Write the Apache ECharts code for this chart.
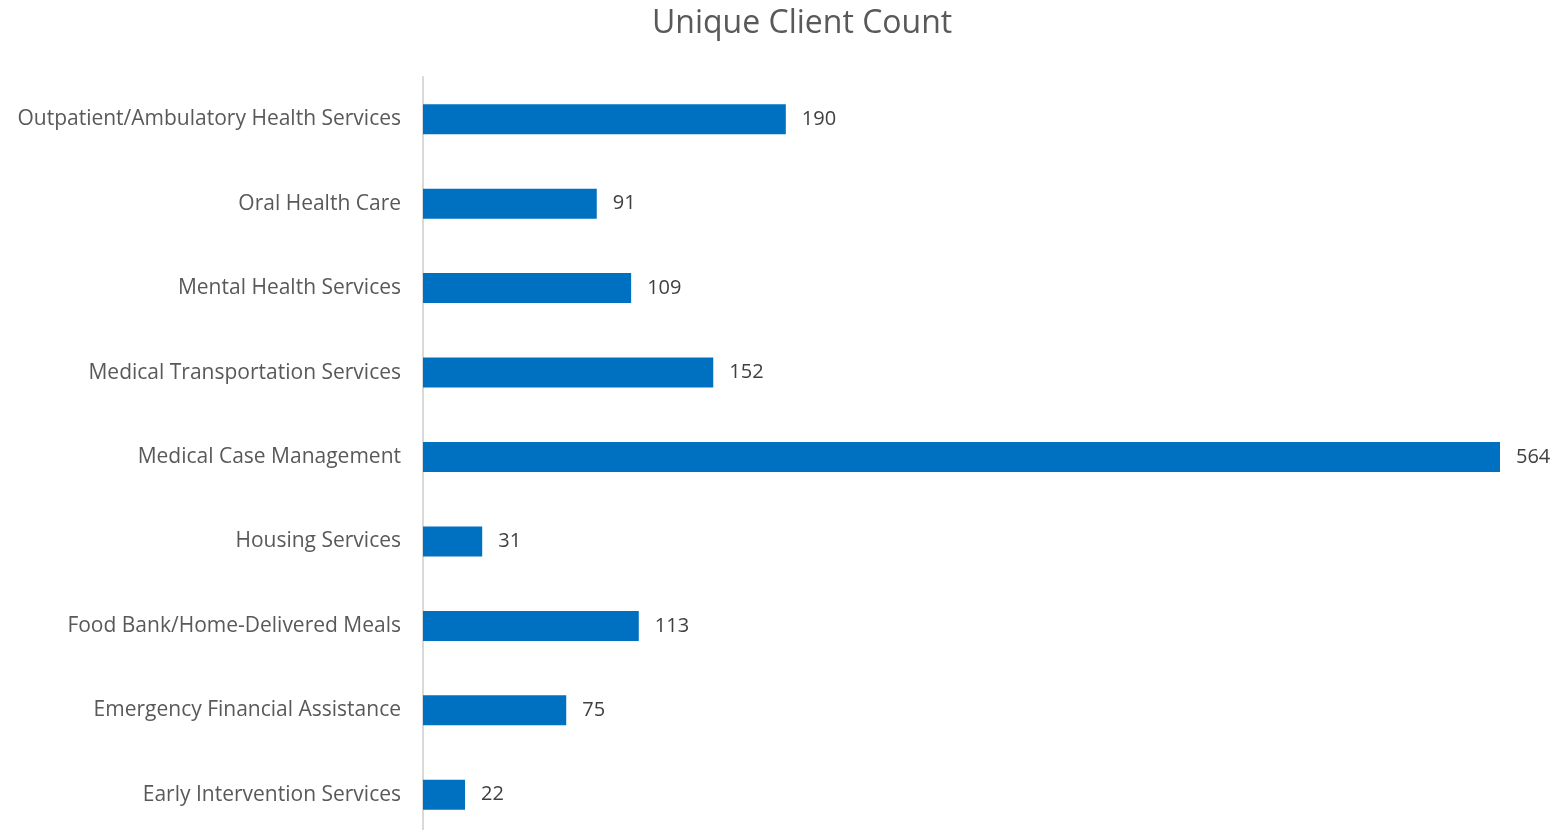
<!DOCTYPE html>
<html><head><meta charset="utf-8">
<script src="https://cdn.jsdelivr.net/npm/echarts@6/dist/echarts.min.js"></script>
<style>html,body{margin:0;padding:0;background:#fff;overflow:hidden;width:1558px;height:830px}#c{width:1558px;height:840px}</style>
</head><body><div id="c"></div>
<script>
const categories = ["Outpatient/Ambulatory Health Services","Oral Health Care","Mental Health Services","Medical Transportation Services","Medical Case Management","Housing Services","Food Bank/Home-Delivered Meals","Emergency Financial Assistance","Early Intervention Services"];
const values = [190,91,109,152,564,31,113,75,22];
const titleText = "Unique Client Count";
const FONT = "'Open Sans', 'Liberation Sans', sans-serif";
const chart = echarts.init(document.getElementById('c'));
chart.setOption({
  animation:false,
  title:{text:titleText,left:647,top:3,textStyle:{fontFamily:FONT,fontSize:32,fontWeight:'normal',color:'#595959'}},
  grid:{left:423,width:1077,top:77,height:760,containLabel:false},
  xAxis:{type:'value',min:0,max:564,show:false},
  yAxis:{type:'category',inverse:true,data:categories,
    axisLine:{show:true,lineStyle:{color:'#d9d9d9',width:2}},
    axisTick:{show:false},
    axisLabel:{margin:22,fontFamily:FONT,fontSize:21,color:'#595959'}},
  series:[{type:'bar',data:values,barWidth:30,itemStyle:{color:'#0070C0'},
    label:{show:true,position:'right',distance:16,fontFamily:FONT,fontSize:20,color:'#404040'}}]
});
</script></body></html>
